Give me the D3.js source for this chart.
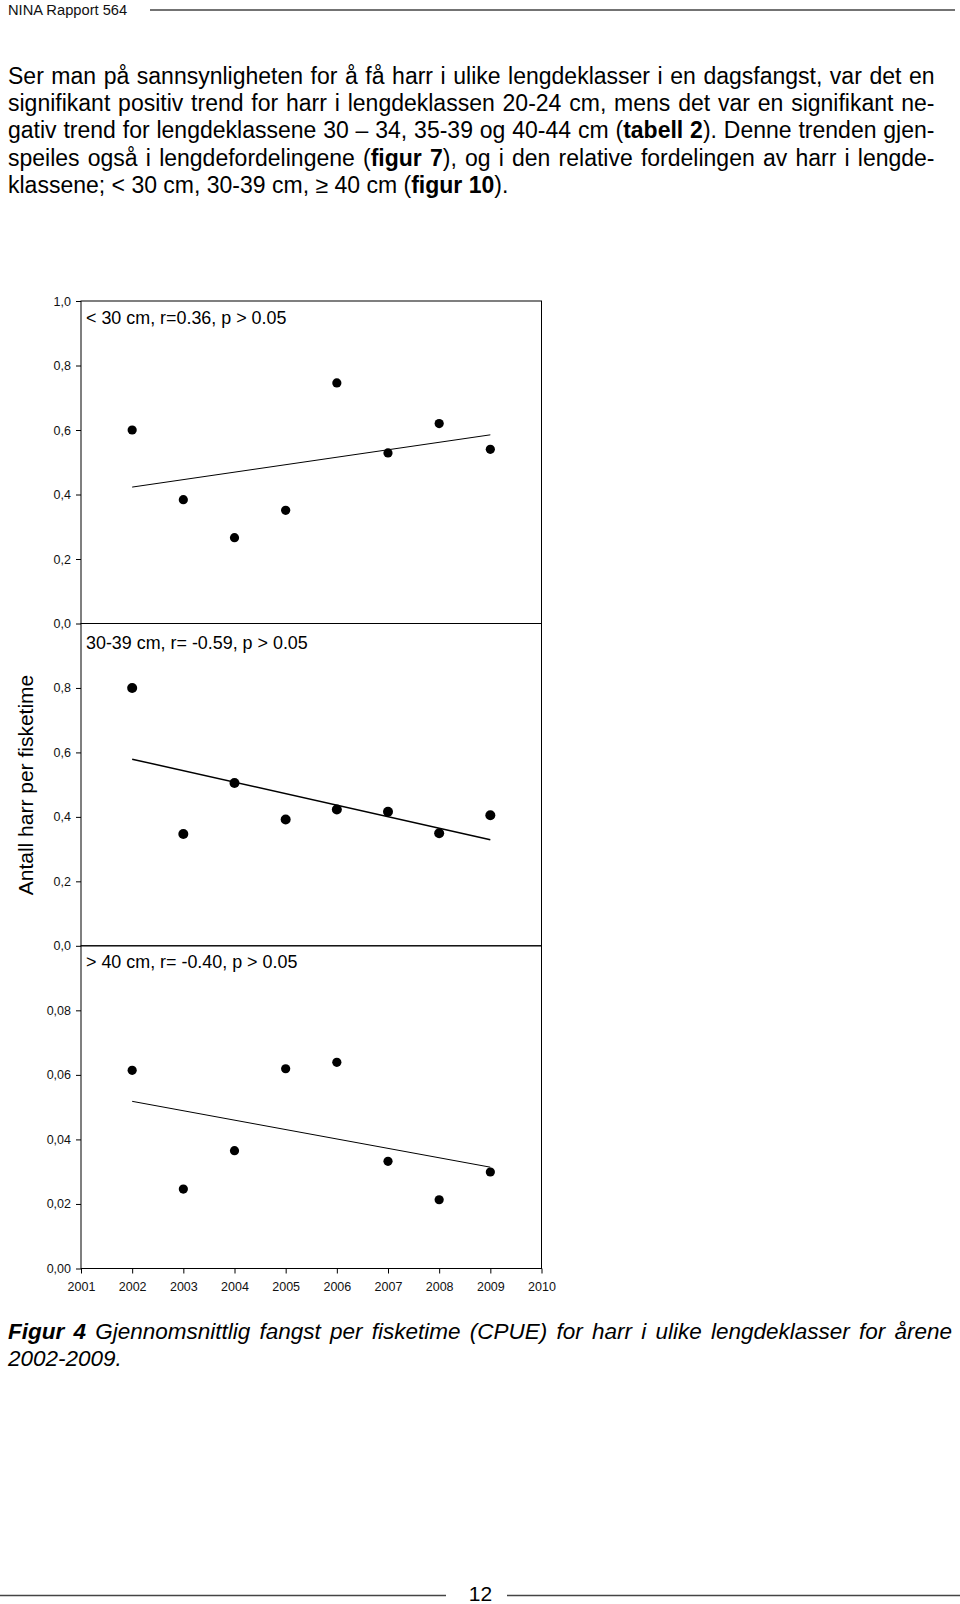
<!DOCTYPE html>
<html><head><meta charset="utf-8">
<script src="https://cdn.jsdelivr.net/npm/d3@7"></script>
<style>
body{margin:0;background:#fff;}
svg{display:block;font-family:"Liberation Sans",Arial,sans-serif;}
</style></head><body>
<svg id="c" width="960" height="1604"></svg>
<script>
// ---------- data ----------
const years = [2002, 2003, 2004, 2005, 2006, 2007, 2008, 2009];
const xTickYears = [2001, 2002, 2003, 2004, 2005, 2006, 2007, 2008, 2009, 2010];
const cpueUnder30 = [0.600, 0.384, 0.266, 0.351, 0.746, 0.529, 0.620, 0.540];
const cpue30to39 = [0.800, 0.347, 0.505, 0.392, 0.423, 0.416, 0.349, 0.405];
const cpueOver40 = [0.0614, 0.0246, 0.0365, 0.0619, 0.0639, 0.0332, 0.0213, 0.0299];
const trendUnder30 = [0.423, 0.585];   // fitted line at 2002 and 2009
const trend30to39 = [0.579, 0.329];
const trendOver40 = [0.0518, 0.0314];
const ticksUnder30 = [0, 0.2, 0.4, 0.6, 0.8, 1.0];
const ticks30to39 = [0, 0.2, 0.4, 0.6, 0.8];
const ticksOver40 = [0, 0.02, 0.04, 0.06, 0.08];
const panelLabels = ["< 30 cm, r=0.36, p > 0.05", "30-39 cm, r= -0.59, p > 0.05", "> 40 cm, r= -0.40, p > 0.05"];
const yTitle = "Antall harr per fisketime";
const headerText = "NINA Rapport 564";
const pageNumber = "12";
const paragraphLines = [
  [["Ser man på sannsynligheten for å få harr i ulike lengdeklasser i en dagsfangst, var det en", false]],
  [["signifikant positiv trend for harr i lengdeklassen 20-24 cm, mens det var en signifikant ne-", false]],
  [["gativ trend for lengdeklassene 30 – 34, 35-39 og 40-44 cm (", false], ["tabell 2", true], ["). Denne trenden gjen-", false]],
  [["speiles også i lengdefordelingene (", false], ["figur 7", true], ["), og i den relative fordelingen av harr i lengde-", false]],
  [["klassene; < 30 cm, 30-39 cm, ≥ 40 cm (", false], ["figur 10", true], [").", false]]
];
const captionLines = [
  [["Figur 4", true], [" Gjennomsnittlig fangst per fisketime (CPUE) for harr i ulike lengdeklasser for årene", false]],
  [["2002-2009.", false]]
];

// ---------- layout ----------
const svg = d3.select("#c");
const plotLeft = 81, plotRight = 541.5;
const x = d3.scaleLinear().domain([2001, 2010]).range([plotLeft, plotRight]);

const panels = [
  {vals: cpueUnder30, trend: trendUnder30, ticks: ticksUnder30, max: 1.0, fmt: ".1f", top: 301, bottom: 623.5, labelY: 324, r: 4.6, lw: 1},
  {vals: cpue30to39, trend: trend30to39, ticks: ticks30to39, max: 1.0, fmt: ".1f", top: 623.5, bottom: 945.8, labelY: 649, r: 5, lw: 1.5},
  {vals: cpueOver40, trend: trendOver40, ticks: ticksOver40, max: 0.1, fmt: ".2f", top: 945.8, bottom: 1268.5, labelY: 968, r: 4.6, lw: 1}
];

// header
svg.append("text").attr("x", 8).attr("y", 15).attr("font-size", 14.7).attr("fill", "#111").text(headerText);
svg.append("line").attr("x1", 150).attr("x2", 955).attr("y1", 10).attr("y2", 10).attr("stroke", "#444").attr("stroke-width", 1.5);

// justified text helper
function drawLines(lines, opts) {
  lines.forEach((segs, i) => {
    const t = svg.append("text")
      .attr("x", opts.x).attr("y", opts.y0 + i * opts.dy)
      .attr("font-size", opts.size).attr("fill", "#000")
      .attr("font-style", opts.italic ? "italic" : "normal");
    segs.forEach(s => {
      t.append("tspan").attr("font-weight", s[1] ? "bold" : "normal").text(s[0]);
    });
    if (opts.justify[i]) {
      const full = segs.map(s => s[0]).join("");
      const spaces = (full.match(/ /g) || []).length;
      const natural = t.node().getComputedTextLength();
      const ws = (opts.right - opts.x - natural) / spaces;
      t.attr("word-spacing", ws);
    }
  });
}

drawLines(paragraphLines, {x: 8, y0: 84, dy: 27.2, size: 23, italic: false, right: 934.5, justify: [1, 1, 1, 1, 0]});
drawLines(captionLines, {x: 8, y0: 1339, dy: 27.2, size: 22.5, italic: true, right: 952, justify: [1, 0]});

// panels
panels.forEach((p, idx) => {
  const y = d3.scaleLinear().domain([0, p.max]).range([p.bottom, p.top]);
  const g = svg.append("g");
  g.append("rect").attr("x", plotLeft).attr("y", p.top)
    .attr("width", plotRight - plotLeft).attr("height", p.bottom - p.top)
    .attr("fill", "none").attr("stroke", "#000").attr("stroke-width", 1);
  const fmt = d3.format(p.fmt);
  const ax = g.append("g").attr("transform", `translate(${plotLeft},0)`)
    .call(d3.axisLeft(y).tickValues(p.ticks).tickSize(5).tickSizeOuter(0).tickPadding(5)
      .tickFormat(d => fmt(d).replace(".", ",")));
  ax.select(".domain").remove();
  ax.selectAll("text").attr("font-size", 12.5).attr("font-family", "Liberation Sans, Arial, sans-serif").attr("fill", "#111");
  ax.selectAll("line").attr("stroke", "#000");

  // regression line
  g.append("line")
    .attr("x1", x(years[0])).attr("y1", y(p.trend[0]))
    .attr("x2", x(years[years.length - 1])).attr("y2", y(p.trend[1]))
    .attr("stroke", "#000").attr("stroke-width", p.lw);

  // points
  g.selectAll("circle").data(p.vals).join("circle")
    .attr("cx", (d, i) => x(years[i])).attr("cy", d => y(d))
    .attr("r", p.r).attr("fill", "#000");

  g.append("text").attr("x", 86).attr("y", p.labelY).attr("font-size", 17.9).attr("fill", "#000")
    .text(panelLabels[idx]);
});

// bottom x axis
const xa = svg.append("g").attr("transform", `translate(0,${panels[2].bottom})`)
  .call(d3.axisBottom(x).tickValues(xTickYears).tickFormat(d3.format("d")).tickSize(5).tickSizeOuter(0).tickPadding(9));
xa.select(".domain").remove();
xa.selectAll("text").attr("font-size", 12.5).attr("font-family", "Liberation Sans, Arial, sans-serif").attr("fill", "#111");
xa.selectAll("line").attr("stroke", "#000");

// y title
svg.append("text").attr("transform", "translate(33,785) rotate(-90)")
  .attr("text-anchor", "middle").attr("font-size", 21).attr("fill", "#000").text(yTitle);

// footer
svg.append("line").attr("x1", 0).attr("x2", 446).attr("y1", 1595.5).attr("y2", 1595.5).attr("stroke", "#444").attr("stroke-width", 1.5);
svg.append("line").attr("x1", 507).attr("x2", 960).attr("y1", 1595.5).attr("y2", 1595.5).attr("stroke", "#444").attr("stroke-width", 1.5);
svg.append("text").attr("x", 480.5).attr("y", 1601).attr("text-anchor", "middle").attr("font-size", 21).attr("fill", "#000").text(pageNumber);
</script>
</body></html>
